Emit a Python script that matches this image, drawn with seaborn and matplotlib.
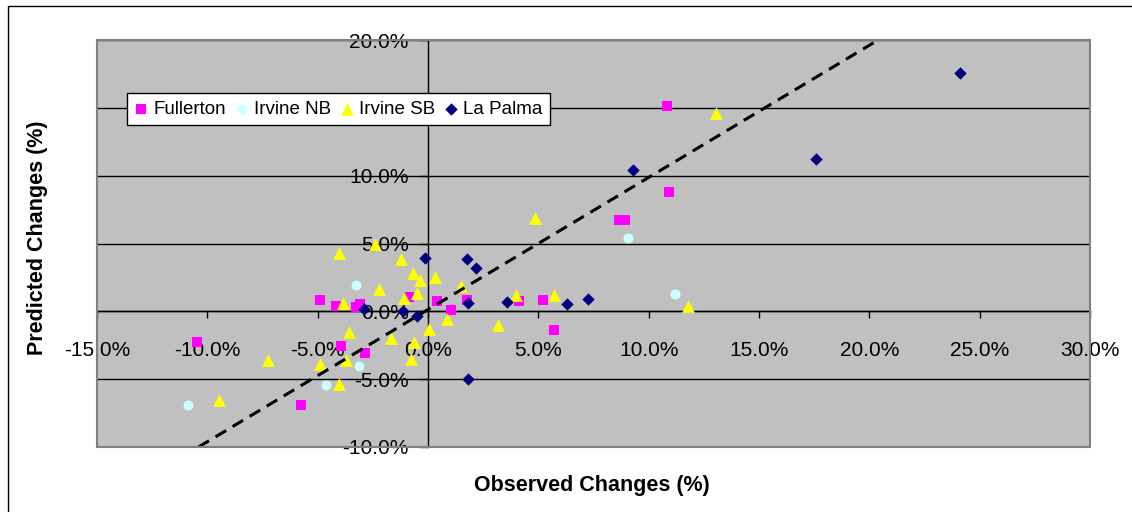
import pandas as pd
import matplotlib
matplotlib.use('Agg')
import matplotlib.pyplot as plt
import seaborn as sns
from matplotlib.patches import Rectangle
from matplotlib.ticker import FuncFormatter, MultipleLocator

# observed / predicted changes (%), one pair of lists per site
fullerton_obs = [-10.45, -5.74, -4.91, -4.17, -3.92, -3.26, -3.06, -2.86, -0.87, 0.42,
                 1.06, 1.77, 4.14, 5.23, 5.70, 8.65, 8.95, 10.85, 10.90]
fullerton_pred = [-2.27, -6.94, 0.82, 0.37, -2.57, 0.29, 0.54, -3.07, 1.08, 0.74,
                  0.07, 0.81, 0.74, 0.86, -1.40, 6.70, 6.70, 15.10, 8.80]

irvine_nb_obs = [-10.86, -4.64, -3.26, -3.13, 9.06, 11.18]
irvine_nb_pred = [-6.94, -5.40, 1.95, -4.05, 5.37, 1.26]

irvine_sb_obs = [-9.47, -7.26, -4.88, -4.05, -4.05, -3.85, -3.72, -3.58, -2.41, -2.22,
                 -1.66, -1.24, -1.09, -0.79, -0.66, -0.65, -0.48, -0.35, 0.05, 0.32,
                 0.88, 1.48, 3.15, 4.00, 4.83, 5.73, 11.76, 13.06]
irvine_sb_pred = [-6.57, -3.62, -3.88, 4.30, -5.34, 0.65, -3.60, -1.55, 5.00, 1.63,
                  -1.94, 3.85, 0.96, -3.50, 2.86, -2.27, 1.32, 2.31, -1.30, 2.51,
                  -0.57, 1.86, -1.03, 1.18, 6.85, 1.18, 0.37, 14.60]

la_palma_obs = [-2.88, -1.12, -0.50, -0.15, 1.77, 1.83, 1.83, 2.18, 3.60, 6.30,
                7.26, 9.29, 17.60, 24.10]
la_palma_pred = [0.16, 0.04, -0.38, 3.96, 3.84, 0.64, -5.00, 3.18, 0.69, 0.54,
                 0.89, 10.40, 11.20, 17.60]

# dashed reference line end points
line_obs = [-10.4, 20.4]
line_pred = [-10.0, 20.0]

sites = ['Fullerton', 'Irvine NB', 'Irvine SB', 'La Palma']
colors = {'Fullerton': '#FF00FF', 'Irvine NB': '#CCFFFF',
          'Irvine SB': '#FFFF00', 'La Palma': '#000080'}
markers = {'Fullerton': 's', 'Irvine NB': 'o', 'Irvine SB': '^', 'La Palma': 'D'}
sizes = {'Fullerton': 52, 'Irvine NB': 52, 'Irvine SB': 85, 'La Palma': 40}

df = pd.concat([
    pd.DataFrame({'site': 'Fullerton', 'observed': fullerton_obs, 'predicted': fullerton_pred}),
    pd.DataFrame({'site': 'Irvine NB', 'observed': irvine_nb_obs, 'predicted': irvine_nb_pred}),
    pd.DataFrame({'site': 'Irvine SB', 'observed': irvine_sb_obs, 'predicted': irvine_sb_pred}),
    pd.DataFrame({'site': 'La Palma', 'observed': la_palma_obs, 'predicted': la_palma_pred}),
], ignore_index=True)

plt.rcParams['font.family'] = ['Liberation Sans', 'DejaVu Sans']

W, H = 1132, 512
fig = plt.figure(figsize=(W / 100, H / 100), dpi=100)
ax = fig.add_axes([97 / W, 65 / H, 993 / W, 407 / H])
ax.set_facecolor('#C0C0C0')

for name in sites:
    d = df[df['site'] == name]
    sns.scatterplot(data=d, x='observed', y='predicted', marker=markers[name],
                    color=colors[name], s=sizes[name], linewidth=0, label=name,
                    ax=ax, zorder=3)

sns.lineplot(x=line_obs, y=line_pred, color='black', lw=2.2,
             linestyle=(0, (4, 2.5)), ax=ax, zorder=4)

ax.set_xlim(-15, 30)
ax.set_ylim(-10, 20)
ax.xaxis.set_major_locator(MultipleLocator(5))
ax.yaxis.set_major_locator(MultipleLocator(5))
pct = FuncFormatter(lambda v, p: f'{v + 0.0:.1f}%')
# the 15% label sits behind the legend in the original, so leave it blank
pct_y = FuncFormatter(lambda v, p: '' if abs(v - 15) < 1e-9 else f'{v + 0.0:.1f}%')
ax.xaxis.set_major_formatter(pct)
ax.yaxis.set_major_formatter(pct_y)
ax.yaxis.grid(True, color='black', lw=1)
ax.xaxis.grid(False)

# axes cross at zero like the original spreadsheet chart
ax.spines['left'].set_position(('data', 0))
ax.spines['bottom'].set_position(('data', 0))
for s in ['left', 'bottom']:
    ax.spines[s].set_color('black')
    ax.spines[s].set_linewidth(1)
for s in ['top', 'right']:
    ax.spines[s].set_visible(False)
ax.add_patch(Rectangle((0, 0), 1, 1, transform=ax.transAxes, fill=False,
                       edgecolor='#808080', lw=1.5, zorder=5, clip_on=False))

ax.tick_params(axis='y', direction='out', length=6, width=1, pad=8,
               labelsize=15, colors='black')
ax.tick_params(axis='x', direction='out', length=5, width=1, pad=16,
               labelsize=15, colors='black')
ax.set_xlabel('')
ax.set_ylabel('')

leg = ax.legend(loc='upper left', bbox_to_anchor=(0.030, 0.870), borderaxespad=0,
                ncol=4, fontsize=13.5, frameon=True, fancybox=False,
                handlelength=0.7, handletextpad=0.3, columnspacing=0.5,
                borderpad=0.4, scatterpoints=1)
leg.get_frame().set_edgecolor('black')
leg.get_frame().set_linewidth(1)
leg.get_frame().set_facecolor('white')
leg.get_frame().set_alpha(1)

fig.text(592 / W, 1 - 486 / H, 'Observed Changes (%)', ha='center', va='center',
         fontsize=15.5, fontweight='bold')
fig.text(37 / W, 1 - 238 / H, 'Predicted Changes (%)', ha='center', va='center',
         rotation=90, fontsize=15.5, fontweight='bold')

# outer chart border (only top and left edges are inside the image)
fig.add_artist(Rectangle((8 / W, -1), 2, 2 - 6 / H, transform=fig.transFigure,
                         fill=False, edgecolor='black', lw=1))

fig.savefig('out.png', dpi=100)
